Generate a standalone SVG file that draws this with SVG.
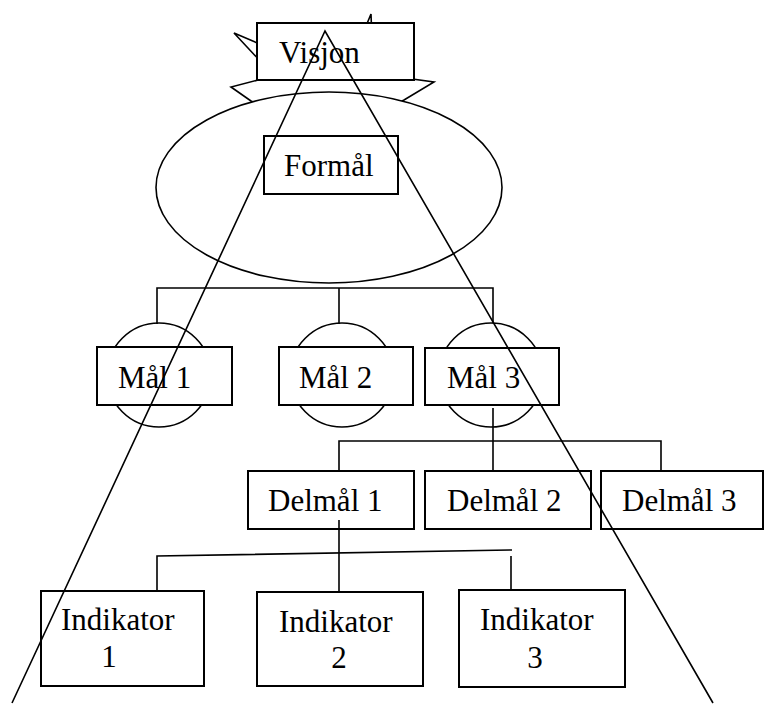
<svg xmlns="http://www.w3.org/2000/svg" width="765" height="704" viewBox="0 0 765 704">
  <style>
    .box { fill: #fff; stroke: #000; stroke-width: 2; }
    .shape { fill: #fff; stroke: #000; stroke-width: 1.6; }
    .wire { fill: none; stroke: #000; stroke-width: 1.6; }
    .lbl { font-family: "Liberation Serif", "Times New Roman", serif; font-size: 31px; fill: #000; }
    .mid { text-anchor: middle; }
  </style>
  <rect width="765" height="704" fill="#fff"/>

  <!-- Visjon: starburst behind the label box -->
  <g id="visjon">
    <polygon class="shape" points="234,33 262,45 366,26 371,14 372,40 405,78 434,82 404,100 329,140 251,101 231,87 262,79 262,63"/>
    <rect class="box" x="257" y="23" width="157" height="57"/>
    <text class="lbl" x="279" y="63">Visjon</text>
  </g>

  <!-- Formål: ellipse with inner box -->
  <g id="formaal">
    <ellipse class="shape" cx="329" cy="187.5" rx="173" ry="95.5"/>
    <rect class="box" x="264" y="136" width="134" height="58"/>
    <text class="lbl" x="284" y="176">Formål</text>
  </g>

  <!-- Mål nodes: circle behind a box -->
  <g id="maal1">
    <circle class="shape" cx="159" cy="375" r="52"/>
    <rect class="box" x="97" y="347" width="135" height="58"/>
    <text class="lbl" x="118" y="388">Mål 1</text>
  </g>
  <g id="maal2">
    <circle class="shape" cx="342" cy="375" r="52"/>
    <rect class="box" x="279" y="347" width="134" height="58"/>
    <text class="lbl" x="299" y="388">Mål 2</text>
  </g>
  <g id="maal3">
    <circle class="shape" cx="491" cy="375" r="52"/>
    <rect class="box" x="425" y="348" width="134" height="57"/>
    <text class="lbl" x="447" y="388">Mål 3</text>
  </g>

  <!-- Delmål nodes -->
  <g id="delmaal1">
    <rect class="box" x="248" y="471" width="166" height="58"/>
    <text class="lbl" x="268" y="511">Delmål 1</text>
  </g>
  <g id="delmaal2">
    <rect class="box" x="425" y="471" width="166" height="58"/>
    <text class="lbl" x="447" y="511">Delmål 2</text>
  </g>
  <g id="delmaal3">
    <rect class="box" x="601" y="471" width="162" height="58"/>
    <text class="lbl" x="622" y="511">Delmål 3</text>
  </g>

  <!-- Indikator nodes -->
  <g id="indikator1">
    <rect class="box" x="41" y="591" width="163" height="95"/>
    <text class="lbl" x="61" y="630">Indikator</text>
    <text class="lbl mid" x="109" y="667">1</text>
  </g>
  <g id="indikator2">
    <rect class="box" x="257" y="592" width="166" height="94"/>
    <text class="lbl" x="279" y="632">Indikator</text>
    <text class="lbl mid" x="339" y="668">2</text>
  </g>
  <g id="indikator3">
    <rect class="box" x="459" y="590" width="166" height="97"/>
    <text class="lbl" x="480" y="630">Indikator</text>
    <text class="lbl mid" x="535" y="668">3</text>
  </g>

  <!-- Connectors -->
  <g id="connectors" class="wire">
    <polyline points="157,324 157,288 493,288 493,323"/>
    <line x1="339" y1="288" x2="339" y2="324"/>
    <line x1="493" y1="408" x2="493" y2="471"/>
    <polyline points="339,471 339,441 661,441 661,471"/>
    <line x1="339" y1="520" x2="339" y2="592"/>
    <polyline points="157,591 157,556 512,550"/>
    <line x1="511" y1="556" x2="511" y2="590"/>
  </g>

  <!-- Large triangle overlaying the hierarchy -->
  <g id="triangle" class="wire">
    <polyline points="12,703 325,31 713,703"/>
  </g>
</svg>
